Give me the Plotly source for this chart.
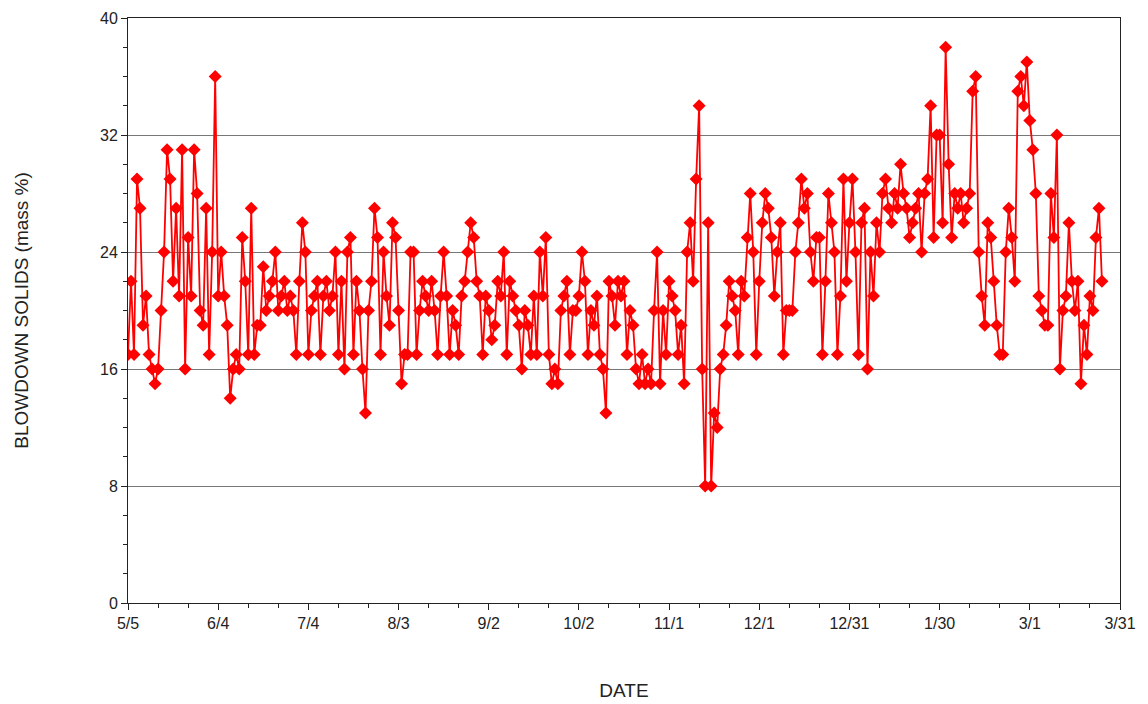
import pandas as pd
import plotly.graph_objects as go

# Daily blowdown solids readings (mass %), starting 5/5
start_date = "2009-05-05"
solids = [
    17, 22, 17, 29, 27, 19, 21, 17, 16, 15,
    16, 20, 24, 31, 29, 22, 27, 21, 31, 16,
    25, 21, 31, 28, 20, 19, 27, 17, 24, 36,
    21, 24, 21, 19, 14, 16, 17, 16, 25, 22,
    17, 27, 17, 19, 19, 23, 20, 21, 22, 24,
    20, 21, 22, 20, 21, 20, 17, 22, 26, 24,
    17, 20, 21, 22, 17, 21, 22, 20, 21, 24,
    17, 22, 16, 24, 25, 17, 22, 20, 16, 13,
    20, 22, 27, 25, 17, 24, 21, 19, 26, 25,
    20, 15, 17, 17, 24, 24, 17, 20, 22, 21,
    20, 22, 20, 17, 21, 24, 21, 17, 20, 19,
    17, 21, 22, 24, 26, 25, 22, 21, 17, 21,
    20, 18, 19, 22, 21, 24, 17, 22, 21, 20,
    19, 16, 20, 19, 17, 21, 17, 24, 21, 25,
    17, 15, 16, 15, 20, 21, 22, 17, 20, 20,
    21, 24, 22, 17, 20, 19, 21, 17, 16, 13,
    22, 21, 19, 22, 21, 22, 17, 20, 19, 16,
    15, 17, 15, 16, 15, 20, 24, 15, 20, 17,
    22, 21, 20, 17, 19, 15, 24, 26, 22, 29,
    34, 16, 8, 26, 8, 13, 12, 16, 17, 19,
    22, 21, 20, 17, 22, 21, 25, 28, 24, 17,
    22, 26, 28, 27, 25, 21, 24, 26, 17, 20,
    20, 20, 24, 26, 29, 27, 28, 24, 22, 25,
    25, 17, 22, 28, 26, 24, 17, 21, 29, 22,
    26, 29, 24, 17, 26, 27, 16, 24, 21, 26,
    24, 28, 29, 27, 26, 28, 27, 30, 28, 27,
    25, 26, 27, 28, 24, 28, 29, 34, 25, 32,
    32, 26, 38, 30, 25, 28, 27, 28, 26, 27,
    28, 35, 36, 24, 21, 19, 26, 25, 22, 19,
    17, 17, 24, 27, 25, 22, 35, 36, 34, 37,
    33, 31, 28, 21, 20, 19, 19, 28, 25, 32,
    16, 20, 21, 26, 22, 20, 22, 15, 19, 17,
    21, 20, 25, 27, 22,
]

# Axis ticks: every 30 days from 5/5 to 3/31
tick_labels = ["5/5", "6/4", "7/4", "8/3", "9/2", "10/2", "11/1",
               "12/1", "12/31", "1/30", "3/1", "3/31"]
y_ticks = [0, 8, 16, 24, 32, 40]

dates = pd.date_range(start_date, periods=len(solids), freq="D")
tick_dates = pd.date_range(start_date, periods=len(tick_labels), freq="30D")
minor_dates = pd.date_range(start_date, tick_dates[-1], freq="10D")

fig = go.Figure()
fig.add_trace(go.Scatter(
    x=dates, y=solids, mode="lines+markers",
    line=dict(color="#ff0000", width=1.8),
    marker=dict(symbol="diamond", size=10, color="#ff0000"),
    showlegend=False,
))

fig.update_layout(
    width=1148, height=704,
    margin=dict(l=128, r=28, t=18, b=101),
    paper_bgcolor="white", plot_bgcolor="white",
    font=dict(family="Liberation Sans, Arial, sans-serif", size=16, color="#222"),
)
fig.update_xaxes(
    automargin=False,
    range=[tick_dates[0], tick_dates[-1]],
    tickvals=tick_dates, ticktext=tick_labels,
    ticks="outside", ticklen=6, tickcolor="#222",
    minor=dict(tickvals=minor_dates, ticks="outside", ticklen=4, tickcolor="#222"),
    showgrid=False, showline=True, linecolor="#222", linewidth=1, mirror=True,
    title=dict(text="DATE", standoff=52),
)
fig.update_yaxes(
    automargin=False,
    range=[0, 40], tickvals=y_ticks,
    ticks="outside", ticklen=6, tickcolor="#222",
    minor=dict(dtick=2, ticks="outside", ticklen=4, tickcolor="#222", showgrid=False),
    showgrid=True, gridcolor="#777", gridwidth=1,
    showline=True, linecolor="#222", linewidth=1, mirror=True,
    zeroline=False,
    title=dict(text="BLOWDOWN SOLIDS (mass %)", standoff=66),
)

fig.write_html("out.html")
